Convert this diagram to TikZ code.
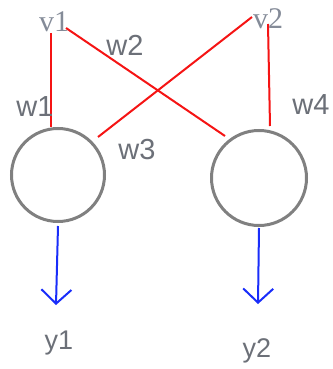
\documentclass[tikz,border=0pt]{standalone}
\usepackage{fontspec}
\setmainfont{Liberation Sans}
\newfontfamily\vfont{Liberation Serif}
\usetikzlibrary{arrows.meta}
\definecolor{wgray}{RGB}{108,112,120}
\definecolor{vgray}{RGB}{132,139,152}
\definecolor{ringgray}{RGB}{128,128,128}
\definecolor{wred}{RGB}{245,20,20}
\definecolor{outblue}{RGB}{25,45,250}
\begin{document}
\begin{tikzpicture}[x=1pt,y=-1pt,
  neuron/.style={circle,draw=ringgray,line width=3pt,inner sep=0pt},
  inlabel/.style={text=vgray,font=\vfont\fontsize{30}{30}\selectfont,inner sep=0pt},
  wlabel/.style={text=wgray,font=\fontsize{29}{29}\selectfont,inner sep=0pt},
  ylabel/.style={text=wgray,font=\fontsize{27}{27}\selectfont,inner sep=0pt},
  weight/.style={draw=wred,line width=2pt},
  output/.style={draw=outblue,line width=2pt,
    -{Straight Barb[length=14pt,width=30pt,line width=2pt]}}]
\useasboundingbox (0,0) rectangle (332,369);

% inputs
\node[inlabel] (v1) at (54,22) {v1};
\node[inlabel] (v2) at (268,19) {v2};

% neurons
\node[neuron,minimum size=93pt] (n1) at (58,175) {};
\node[neuron,minimum size=95pt] (n2) at (259,178) {};

% weight connection end points
\coordinate (v1s) at (51,33);
\coordinate (v1e) at (66,28);
\coordinate (v2w) at (252,17);
\coordinate (v2s) at (268,24);
\coordinate (n1t) at (51,127);
\coordinate (n1r) at (98,137);
\coordinate (n2l) at (225,136);
\coordinate (n2t) at (270,126);

\draw[weight] (v1s) -- (n1t);
\draw[weight] (v1e) -- (n2l);
\draw[weight] (v2w) -- (n1r);
\draw[weight] (v2s) -- (n2t);

% weight labels
\node[wlabel] (w1) at (35,107) {w1};
\node[wlabel] (w2) at (125,45) {w2};
\node[wlabel] (w3) at (137,150) {w3};
\node[wlabel] (w4) at (311,105) {w4};

% outputs
\coordinate (o1) at (56,305);
\coordinate (o2) at (258,304);
\draw[output] (n1.south) ++(0,3) -- (o1);
\draw[output] (n2.south) ++(0,1) -- (o2);
\node[ylabel] (y1) at (59,343) {y1};
\node[ylabel] (y2) at (257,351) {y2};
\end{tikzpicture}
\end{document}
